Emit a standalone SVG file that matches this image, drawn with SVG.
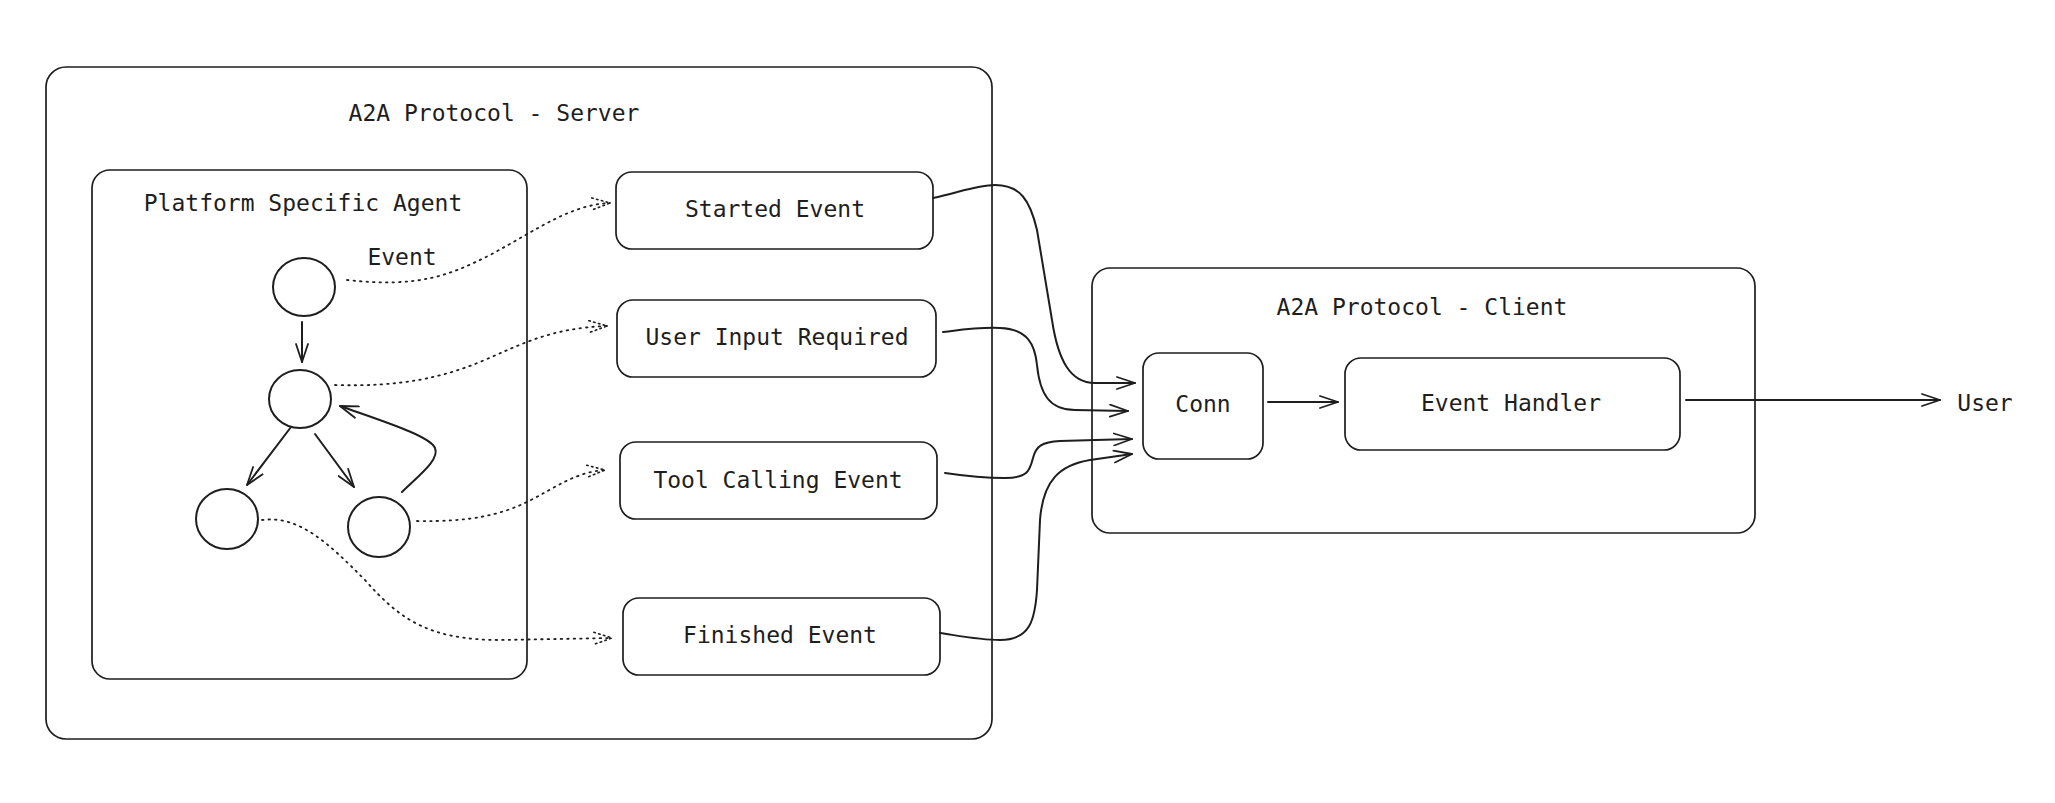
<svg xmlns="http://www.w3.org/2000/svg" width="2055" height="803" viewBox="0 0 2055 803">
<defs>
<style>
.box{fill:none;stroke:#1e1e1e;stroke-width:1.7}
.node{fill:none;stroke:#1e1e1e;stroke-width:2}
.t{font-family:"DejaVu Sans Mono","Liberation Mono",monospace;font-size:23px;fill:#1e1e1e;text-anchor:middle;dominant-baseline:central}
.solid{fill:none;stroke:#1e1e1e;stroke-width:2;stroke-linecap:round;marker-end:url(#arr)}
.dot{fill:none;stroke:#1e1e1e;stroke-width:1.8;stroke-dasharray:1.5 5;stroke-linecap:round;marker-end:url(#arrd)}
</style>
<marker id="arr" viewBox="0 0 20 14" refX="19" refY="7" markerWidth="20" markerHeight="14" markerUnits="userSpaceOnUse" orient="auto">
<path d="M1,1 L19,7 L1,13" fill="none" stroke="#1e1e1e" stroke-width="1.8" stroke-linecap="round" stroke-linejoin="round"/>
</marker>
<marker id="arrd" viewBox="0 0 20 14" refX="19" refY="7" markerWidth="20" markerHeight="14" markerUnits="userSpaceOnUse" orient="auto">
<path d="M1,1 L19,7 L1,13" fill="none" stroke="#1e1e1e" stroke-width="1.6" stroke-dasharray="1.5 3.5" stroke-linecap="round"/>
</marker>
</defs>
<rect width="2055" height="803" fill="#ffffff"/>

<g id="server">
<rect class="box" x="46" y="67" width="946" height="672" rx="20"/>
<text class="t" x="494" y="113">A2A Protocol - Server</text>
</g>
<g id="agent">
<rect class="box" x="92" y="170" width="435" height="509" rx="18"/>
<text class="t" x="303" y="203">Platform Specific Agent</text>
</g>
<g id="n1"><ellipse class="node" cx="304" cy="287" rx="31" ry="29"/></g>
<g id="n2"><ellipse class="node" cx="300" cy="399" rx="31" ry="29"/></g>
<g id="n3"><ellipse class="node" cx="227" cy="519" rx="31" ry="30"/></g>
<g id="n4"><ellipse class="node" cx="379" cy="527" rx="31" ry="30"/></g>

<g id="started">
<rect class="box" x="616" y="172" width="317" height="77" rx="16"/>
<text class="t" x="775" y="209">Started Event</text>
</g>
<g id="userinput">
<rect class="box" x="617" y="300" width="319" height="77" rx="16"/>
<text class="t" x="777" y="337">User Input Required</text>
</g>
<g id="tool">
<rect class="box" x="620" y="442" width="317" height="77" rx="16"/>
<text class="t" x="778" y="480">Tool Calling Event</text>
</g>
<g id="finished">
<rect class="box" x="623" y="598" width="317" height="77" rx="16"/>
<text class="t" x="780" y="635">Finished Event</text>
</g>

<g id="client">
<rect class="box" x="1092" y="268" width="663" height="265" rx="18"/>
<text class="t" x="1422" y="307">A2A Protocol - Client</text>
</g>
<g id="conn">
<rect class="box" x="1143" y="353" width="120" height="106" rx="16"/>
<text class="t" x="1203" y="404">Conn</text>
</g>
<g id="handler">
<rect class="box" x="1345" y="358" width="335" height="92" rx="16"/>
<text class="t" x="1511" y="403">Event Handler</text>
</g>
<g id="user">
<text class="t" x="1985" y="403">User</text>
</g>

<g id="connectors">
<path class="solid" d="M302,322 L302,362"/>
<path class="solid" d="M291,427 L247,485"/>
<path class="solid" d="M315,434 L354,487"/>
<path class="solid" d="M402,492 C418,476 440,460 435,448 C430,436 385,422 340,406"/>

<path class="dot" d="M347,280 C420,288 450,275 490,255 C540,228 570,205 610,203"/>
<text class="t" x="402" y="257">Event</text>
<path class="dot" d="M335,385 C400,387 440,378 480,362 C520,345 550,328 607,326"/>
<path class="dot" d="M417,521 C470,522 500,515 527,502 C555,488 575,472 605,470"/>
<path class="dot" d="M262,520 C300,515 330,545 365,580 C400,620 430,640 500,640 L612,638"/>

<path class="solid" d="M933,198 C960,192 978,185 995,185 C1020,185 1030,200 1037,230 L1052,320 C1058,360 1070,383 1095,383 L1135,383"/>
<path class="solid" d="M943,332 C960,330 980,327 1000,328 C1028,329 1035,345 1037,365 C1040,395 1050,410 1075,410 L1128,411"/>
<path class="solid" d="M945,473 C965,476 985,478 1005,478 C1028,478 1030,470 1033,458 C1036,446 1042,442 1060,441 L1132,439"/>
<path class="solid" d="M940,633 C960,636 980,640 1000,640 C1030,640 1035,620 1037,590 L1040,520 C1043,480 1060,465 1090,460 L1132,454"/>

<path class="solid" d="M1268,402 L1338,402"/>
<path class="solid" d="M1686,400 L1940,400"/>
</g>
</svg>
